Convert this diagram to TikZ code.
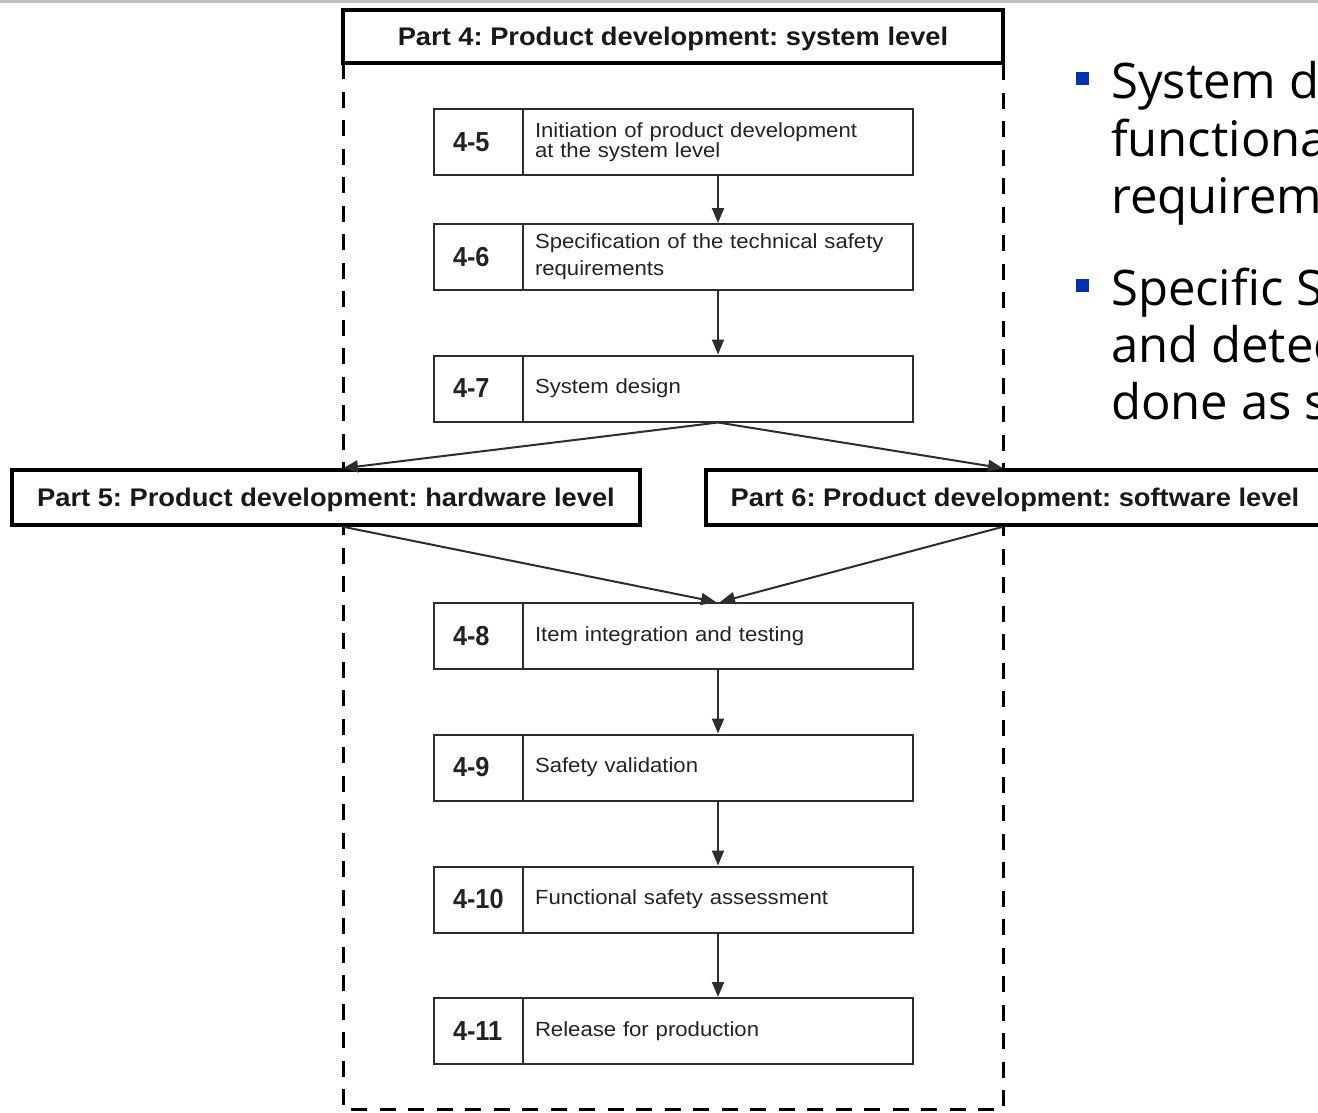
\documentclass[tikz,border=0pt]{standalone}
\usepackage{fontspec}
\setmainfont{Liberation Sans}
\newfontfamily\stepfont[FakeStretch=1.08]{Liberation Sans}
\newfontfamily\numfont[FakeStretch=0.92]{Liberation Sans}
\newfontfamily\headfont[FakeStretch=1.07]{Liberation Sans}
\newfontfamily\bulletfont{Open Sans}
\usetikzlibrary{arrows.meta}
\definecolor{bulletblue}{RGB}{0,51,175}
\definecolor{boxline}{RGB}{45,45,45}
\definecolor{steptext}{RGB}{35,35,35}
\tikzset{
  numbox/.style={draw=boxline, line width=2pt, minimum width=89pt, minimum height=66pt,
    inner xsep=19pt, inner ysep=0pt, text width=51pt, align=left,
    font=\numfont\bfseries\fontsize{27.5}{30}\selectfont, text=steptext},
  txtbox/.style={draw=boxline, line width=2pt, minimum width=390pt, minimum height=66pt,
    inner xsep=12pt, inner ysep=0pt, text width=366pt, align=left,
    font=\stepfont\fontsize{20.5}{18.5}\selectfont, text=steptext},
  partbox/.style={draw=black, line width=3.5pt, fill=white, inner sep=0pt,
    text height=18.5pt, text depth=0pt,
    font=\headfont\bfseries\fontsize{25.5}{28}\selectfont, text=black!90},
  arr/.style={draw=boxline, line width=2pt, -{Triangle[length=15pt,width=12pt]}},
  dashframe/.style={draw=black, line width=3pt, dash pattern=on 16pt off 12.5pt},
  bsq/.style={fill=bulletblue, minimum size=13pt, inner sep=0pt},
  btext/.style={font=\bulletfont\fontsize{49}{57}\selectfont, text=black, inner sep=0pt, anchor=base west}
}
\begin{document}
\frenchspacing
\begin{tikzpicture}[x=1pt,y=-1pt]
\useasboundingbox (0,0) rectangle (1318,1112);
\fill[white] (0,0) rectangle (1318,1112);
\fill[black!25] (0,0) rectangle (1318,2.5);

% dashed frame
\coordinate (fTL) at (343,63);
\coordinate (fBL) at (343,1109.5);
\coordinate (fBR) at (1003,1109.5);
\coordinate (fTR) at (1003,63);
\draw[dashframe] (fTL) -- (fBL) -- (fBR) -- (fTR);

% part boxes
\node[partbox, minimum width=660pt, minimum height=53pt] (p4) at (673,36.5) {Part 4: Product development: system level};
\node[partbox, minimum width=628pt, minimum height=55pt] (p5) at (326,497.5) {Part 5: Product development: hardware level};
\node[partbox, minimum width=618pt, minimum height=55pt] (p6) at (1015,497.5) {Part 6: Product development: software level};

% steps
\node[numbox] (n45) at (478.5,142) {\mbox{4-5}};
\node[txtbox] (t45) at (718,142) {Initiation of product development\\at the system level};
\node[numbox] (n46) at (478.5,257) {\mbox{4-6}};
\node[txtbox] (t46) at (718,257) {Specification of the technical safety\\[7pt]requirements};
\node[numbox] (n47) at (478.5,388.5) {\mbox{4-7}};
\node[txtbox] (t47) at (718,388.5) {System design};
\node[numbox] (n48) at (478.5,636) {\mbox{4-8}};
\node[txtbox] (t48) at (718,636) {Item integration and testing};
\node[numbox] (n49) at (478.5,767.5) {\mbox{4-9}};
\node[txtbox] (t49) at (718,767.5) {Safety validation};
\node[numbox] (n410) at (478.5,899.5) {\mbox{4-10}};
\node[txtbox] (t410) at (718,899.5) {Functional safety assessment};
\node[numbox] (n411) at (478.5,1031) {\mbox{4-11}};
\node[txtbox] (t411) at (718,1031) {Release for production};

% connectors
\draw[arr] (t45.south) -- (t46.north);
\draw[arr] (t46.south) -- (t47.north);
\draw[arr] (t47.south) -- (p5.north -| fTL);
\draw[arr] (t47.south) -- (p6.north -| fTR);
\draw[arr] (p5.south -| fTL) -- ([xshift=-2pt]t48.north);
\draw[arr] (p6.south -| fTR) -- ([xshift=2pt]t48.north);
\draw[arr] (t48.south) -- (t49.north);
\draw[arr] (t49.south) -- (t410.north);
\draw[arr] (t410.south) -- (t411.north);

% bullets
\node[bsq] (b1) at (1082.5,78.5) {};
\node[btext] (l1) at (1111,98) {System d};
\node[btext] (l2) at (1111,156) {functiona};
\node[btext] (l3) at (1111,213) {requirem};
\node[bsq] (b2) at (1082.5,285) {};
\node[btext] (l4) at (1111,305) {Specific S};
\node[btext] (l5) at (1111,362) {and detec};
\node[btext] (l6) at (1111,419) {done as s};
\end{tikzpicture}
\end{document}
